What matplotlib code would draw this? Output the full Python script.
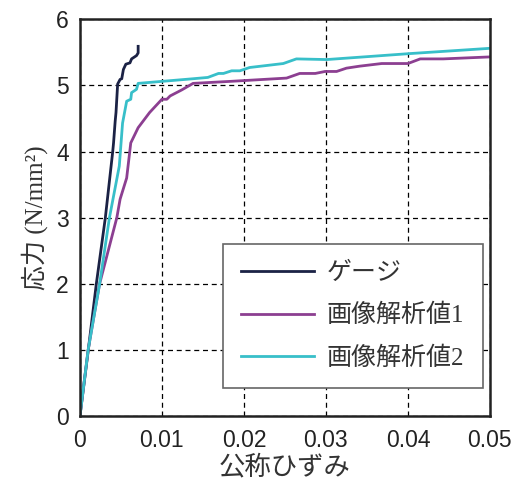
import matplotlib
matplotlib.use('Agg')
import matplotlib.pyplot as plt

plt.rcParams['font.family'] = ['Liberation Sans', 'Noto Sans CJK JP', 'DejaVu Sans']
jp_fam = ['Liberation Serif', 'Noto Sans CJK JP', 'DejaVu Sans']

# ゲージ
gauge_x = [0, 0.001, 0.002, 0.0031, 0.0040, 0.0041, 0.0043, 0.0044, 0.0046, 0.0049,
           0.0051, 0.0053, 0.0056, 0.0061, 0.0063, 0.0069, 0.0071, 0.0071]
gauge_y = [0, 0.98, 2.0, 3.0, 4.0, 4.13, 4.46, 4.59, 5.02, 5.09,
           5.1, 5.24, 5.32, 5.34, 5.40, 5.45, 5.49, 5.59]

# 画像解析値1
img1_x = [0, 0.001, 0.0024, 0.0045, 0.0049, 0.0057, 0.0062, 0.0071, 0.0085, 0.010,
          0.0106, 0.011, 0.0124, 0.0138, 0.0183, 0.0252, 0.0268, 0.0287, 0.0299,
          0.0313, 0.0325, 0.0341, 0.0368, 0.040, 0.0415, 0.0443, 0.05]
img1_y = [0, 1.0, 2.0, 3.0, 3.28, 3.6, 4.13, 4.36, 4.59, 4.79,
          4.79, 4.84, 4.93, 5.03, 5.06, 5.11, 5.18, 5.18, 5.21,
          5.21, 5.26, 5.29, 5.33, 5.33, 5.40, 5.40, 5.43]

# 画像解析値2
img2_x = [0, 0.001, 0.0024, 0.0036, 0.0048, 0.0052, 0.0057, 0.0062, 0.0063, 0.0069,
          0.0071, 0.0138, 0.0156, 0.0169, 0.0175, 0.0185, 0.0195, 0.0207, 0.0248,
          0.0264, 0.0301, 0.0402, 0.05]
img2_y = [0, 1.0, 2.0, 3.0, 3.78, 4.43, 4.76, 4.79, 4.89, 4.94,
          5.03, 5.10, 5.12, 5.18, 5.18, 5.22, 5.22, 5.27, 5.33,
          5.40, 5.39, 5.48, 5.56]

fig = plt.figure(figsize=(5.19, 4.8), dpi=100)
ax = fig.add_axes([0.154, 0.133, 0.79, 0.827])

ax.plot(gauge_x, gauge_y, color='#1b2245', lw=2, label='ゲージ')
ax.plot(img1_x, img1_y, color='#8c3f91', lw=2, label='画像解析値1')
ax.plot(img2_x, img2_y, color='#38bfc9', lw=2, label='画像解析値2')

ax.set_xlim(0, 0.05)
ax.set_ylim(0, 6)
ax.set_xticks([0, 0.01, 0.02, 0.03, 0.04, 0.05])
ax.set_xticklabels(['0', '0.01', '0.02', '0.03', '0.04', '0.05'])
ax.set_yticks([0, 1, 2, 3, 4, 5, 6])
ax.tick_params(labelsize=16.5, length=0, labelcolor='#222222')
ax.tick_params(axis='x', pad=9)
ax.tick_params(axis='y', pad=8)
ax.grid(True, color='black', linestyle=(0, (4, 3)), lw=0.9)
for s in ax.spines.values():
    s.set_linewidth(1.8)
    s.set_color('#222222')

ax.set_xlabel('公称ひずみ', fontsize=19, family=jp_fam, color='#333333', labelpad=2)
ax.set_ylabel('応力 (N/mm²)', fontsize=18, family=jp_fam, color='#333333', labelpad=6)

leg = ax.legend(loc='lower right', bbox_to_anchor=(0.982, 0.07), borderaxespad=0,
                handlelength=2.9, fancybox=False, framealpha=1, edgecolor='#666666',
                borderpad=0.75, labelspacing=0.75, handletextpad=0.5,
                prop={'family': jp_fam, 'size': 18})
leg.get_frame().set_linewidth(1.2)
for t in leg.get_texts():
    t.set_color('#333333')

fig.savefig('out.png', dpi=100)
